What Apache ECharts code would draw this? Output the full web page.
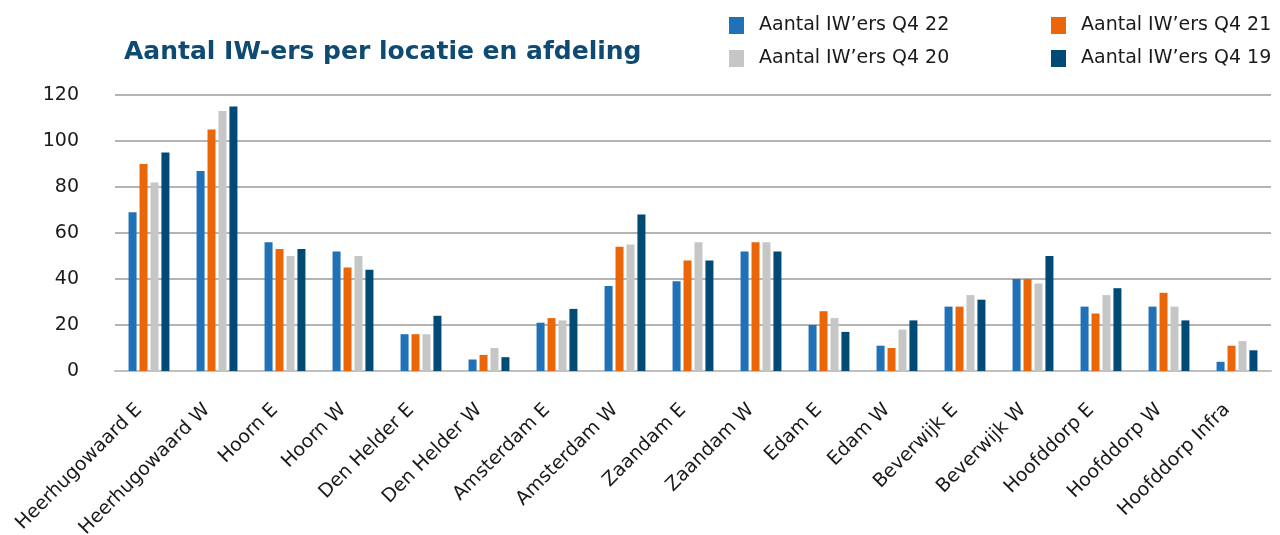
<!DOCTYPE html>
<html>
<head>
<meta charset="utf-8">
<script src="https://cdn.jsdelivr.net/npm/echarts@6/dist/echarts.min.js"></script>
<style>
  html, body { margin: 0; padding: 0; background: #fff; }
  #main { width: 1280px; height: 535px; }
</style>
</head>
<body>
<div id="main"></div>
<script>
var locaties = ['Heerhugowaard E', 'Heerhugowaard W', 'Hoorn E', 'Hoorn W', 'Den Helder E',
    'Den Helder W', 'Amsterdam E', 'Amsterdam W', 'Zaandam E', 'Zaandam W', 'Edam E',
    'Edam W', 'Beverwijk E', 'Beverwijk W', 'Hoofddorp E', 'Hoofddorp W', 'Hoofddorp Infra'];

var q4_22 = [69, 87, 56, 52, 16, 5, 21, 37, 39, 52, 20, 11, 28, 40, 28, 28, 4];
var q4_21 = [90, 105, 53, 45, 16, 7, 23, 54, 48, 56, 26, 10, 28, 40, 25, 34, 11];
var q4_20 = [82, 113, 50, 50, 16, 10, 22, 55, 56, 56, 23, 18, 33, 38, 33, 28, 13];
var q4_19 = [95, 115, 53, 44, 24, 6, 27, 68, 48, 52, 17, 22, 31, 50, 36, 22, 9];

var names = ['Aantal IW’ers Q4 22', 'Aantal IW’ers Q4 21', 'Aantal IW’ers Q4 20', 'Aantal IW’ers Q4 19'];
var colors = ['#1f71b8', '#ea6609', '#c6c6c6', '#004a75'];
var values = [q4_22, q4_21, q4_20, q4_19];

var dom = document.getElementById('main');
var myChart = echarts.init(dom);

// one legend per item so the 2x2 block lines up like the original
var legendPos = [
    { left: 724, top: 11 },
    { left: 1046, top: 11 },
    { left: 724, top: 44 },
    { left: 1046, top: 44 }
];

var legends = names.map(function (n, i) {
    return {
        data: [n],
        left: legendPos[i].left,
        top: legendPos[i].top,
        icon: 'rect',
        itemWidth: 15,
        itemHeight: 17,
        itemGap: 0,
        textStyle: { fontFamily: 'DejaVu Sans', fontSize: 19, color: '#1a1a1a', padding: [0, 0, 0, 10] }
    };
});

var series = names.map(function (n, i) {
    return {
        name: n,
        type: 'bar',
        data: values[i],
        barWidth: 8,
        barGap: '37%',
        itemStyle: { color: colors[i] }
    };
});

var option = {
    animation: false,
    title: {
        text: 'Aantal IW-ers per locatie en afdeling',
        left: 119,
        top: 35,
        textStyle: { fontFamily: 'DejaVu Sans', fontWeight: 'bold', fontSize: 25, color: '#0e4a72' }
    },
    legend: legends,
    grid: { left: 115, right: 9, top: 95, bottom: 164, outerBoundsMode: 'none' },
    xAxis: {
        type: 'category',
        data: locaties,
        axisLine: { lineStyle: { color: '#c0c0c0', width: 2 } },
        axisTick: { show: false },
        axisLabel: {
            rotate: 45,
            interval: 0,
            margin: 26,
            padding: [0, 14, 0, 0],
            fontFamily: 'DejaVu Sans',
            fontSize: 19,
            color: '#1a1a1a'
        }
    },
    yAxis: {
        type: 'value',
        min: 0,
        max: 120,
        interval: 20,
        axisLine: { show: false },
        axisTick: { show: false },
        axisLabel: {
            margin: 36,
            fontFamily: 'DejaVu Sans',
            fontSize: 19,
            color: '#1a1a1a'
        },
        splitLine: { lineStyle: { color: '#b4b4b4', width: 2 } }
    },
    series: series
};

if (option && typeof option === 'object') {
    myChart.setOption(option, true);
}
</script>
</body>
</html>
